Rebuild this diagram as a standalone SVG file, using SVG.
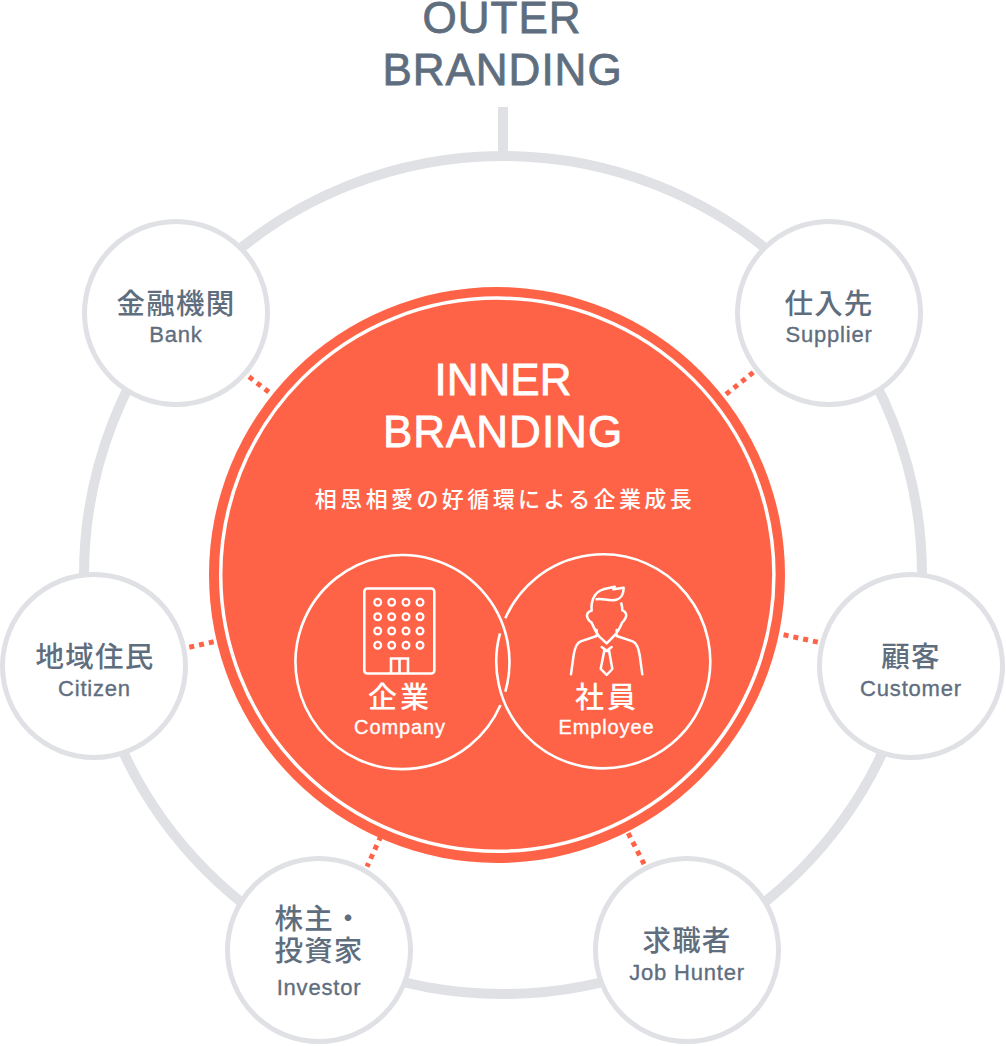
<svg xmlns="http://www.w3.org/2000/svg" width="1006" height="1046" viewBox="0 0 1006 1046">
<style>
.en{font-family:"Liberation Sans",Arial,sans-serif}
.ja{font-family:"Liberation Sans","Noto Sans CJK JP",sans-serif}
text{text-anchor:middle}
.g{fill:#5f6e7e}
.w{fill:#fff}
.en.g{stroke:#5f6e7e;stroke-width:.35}
.en.w{stroke:#fff;stroke-width:.35}
.en.head{stroke-width:.8}
.head{font-size:44px;letter-spacing:1px}
.nj{font-size:28.500px;letter-spacing:1.200px;font-weight:500}
.ne{font-size:22px;letter-spacing:.8px}
.node{fill:#fff;stroke:#dfe1e5;stroke-width:5}
.ln{fill:none;stroke:#fff;stroke-width:2.600}
.dot{fill:none;stroke:#ff6347;stroke-width:5;stroke-dasharray:5 5}
</style>
<g id="connectors">
<circle cx="503" cy="575" r="419" fill="none" stroke="#dfe1e5" stroke-width="10"/>
<path d="M503 107V156" fill="none" stroke="#dfe1e5" stroke-width="10"/>
<path class="dot" d="M249 376.800L276.700 398.200"/>
<path class="dot" d="M726 394.300L753.600 372.100"/>
<path class="dot" d="M189.300 647.200L213.700 641.800"/>
<path class="dot" d="M783.600 634.800L818.100 642.200"/>
<path class="dot" d="M381 836L367 866.600"/>
<path class="dot" d="M628.200 833.100L644.100 864.200"/>
</g>
<text class="en g head" x="502" y="32.500">OUTER</text>
<text class="en g head" x="502.500" y="85">BRANDING</text>
<g id="inner">
<circle cx="497" cy="575" r="288" fill="#ff6347"/>
<circle cx="497.300" cy="574.700" r="276.600" fill="none" stroke="#fff" stroke-width="3.500"/>
<text class="en w head" x="503" y="395" style="letter-spacing:0">INNER</text>
<text class="en w head" x="503" y="447">BRANDING</text>
<text class="ja w" x="505" y="506.500" font-size="22" letter-spacing="3.400" font-weight="500">相思相愛の好循環による企業成長</text>
</g>
<g id="company">
<path class="ln" d="M505.300 691.700A107 107 0 1 0 500.500 705"/>
<rect class="ln" x="364.300" y="588.500" width="70" height="85" rx="3"/>
<g fill="none" stroke="#fff" stroke-width="2.200">
<circle cx="377.700" cy="602.300" r="3.400"/><circle cx="391.700" cy="602.300" r="3.400"/><circle cx="406" cy="602.300" r="3.400"/><circle cx="420" cy="602.300" r="3.400"/>
<circle cx="377.700" cy="616.700" r="3.400"/><circle cx="391.700" cy="616.700" r="3.400"/><circle cx="406" cy="616.700" r="3.400"/><circle cx="420" cy="616.700" r="3.400"/>
<circle cx="377.700" cy="631" r="3.400"/><circle cx="391.700" cy="631" r="3.400"/><circle cx="406" cy="631" r="3.400"/><circle cx="420" cy="631" r="3.400"/>
<circle cx="377.700" cy="645.300" r="3.400"/><circle cx="391.700" cy="645.300" r="3.400"/><circle cx="406" cy="645.300" r="3.400"/><circle cx="420" cy="645.300" r="3.400"/>
</g>
<path class="ln" d="M391 673.500V658.500H408V673.500M399.500 658.500V673.500"/>
<text class="ja w" x="400" y="708" font-size="29" letter-spacing="3" font-weight="500">企業</text>
<text class="en w" x="400" y="734" font-size="20" letter-spacing=".9">Company</text>
</g>
<g id="employee">
<path class="ln" d="M500 633.300A107 107 0 1 0 505.300 618.300"/>
<g transform="translate(560 575) scale(.3333)">
<path fill="none" stroke="#fff" stroke-width="7.500" stroke-linejoin="round" stroke-linecap="round" d="M95 107C92 75 105 50 130 43L164 35L160 43L191 38C191 60 180 73 165 75C145 78 125 69 110 73M184 85C186 92 187 98 187 106C198 110 202 120 196 130C193 137 190 140 186 143C180 160 170 175 160 185L140 205L118 185C108 172 100 155 95 143C90 140 85 136 82 128C78 118 85 108 95 107M110 165V183L62 199C48 205 44 220 41 240L33 298M170 165V183L218 199C232 205 236 220 239 240L247 298M125 216L140 227L155 216M132 232L122 282L140 300L157 282L148 232M132 228H148"/>
</g>
<text class="ja w" x="607" y="708" font-size="29" letter-spacing="3" font-weight="500">社員</text>
<text class="en w" x="606.500" y="734" font-size="20" letter-spacing=".9">Employee</text>
</g>
<g id="bank"><circle class="node" cx="176" cy="313" r="91.500"/><text class="ja g nj" x="176" y="314">金融機関</text><text class="en g ne" x="176" y="342">Bank</text></g>
<g id="supplier"><circle class="node" cx="829" cy="313" r="91.500"/><text class="ja g nj" x="829" y="314">仕入先</text><text class="en g ne" x="829" y="342">Supplier</text></g>
<g id="citizen"><circle class="node" cx="94" cy="666" r="91.500"/><text class="ja g nj" x="95" y="667">地域住民</text><text class="en g ne" x="94.500" y="696">Citizen</text></g>
<g id="customer"><circle class="node" cx="911" cy="666" r="91.500"/><text class="ja g nj" x="911" y="667">顧客</text><text class="en g ne" x="911" y="696">Customer</text></g>
<g id="investor"><circle class="node" cx="319" cy="950" r="91.500"/><text class="ja g nj" x="319" y="929">株主・</text><text class="ja g nj" x="319" y="961">投資家</text><text class="en g ne" x="319" y="995">Investor</text></g>
<g id="jobhunter"><circle class="node" cx="687" cy="950" r="91.500"/><text class="ja g nj" x="687" y="951">求職者</text><text class="en g ne" x="687" y="980">Job Hunter</text></g>
</svg>
